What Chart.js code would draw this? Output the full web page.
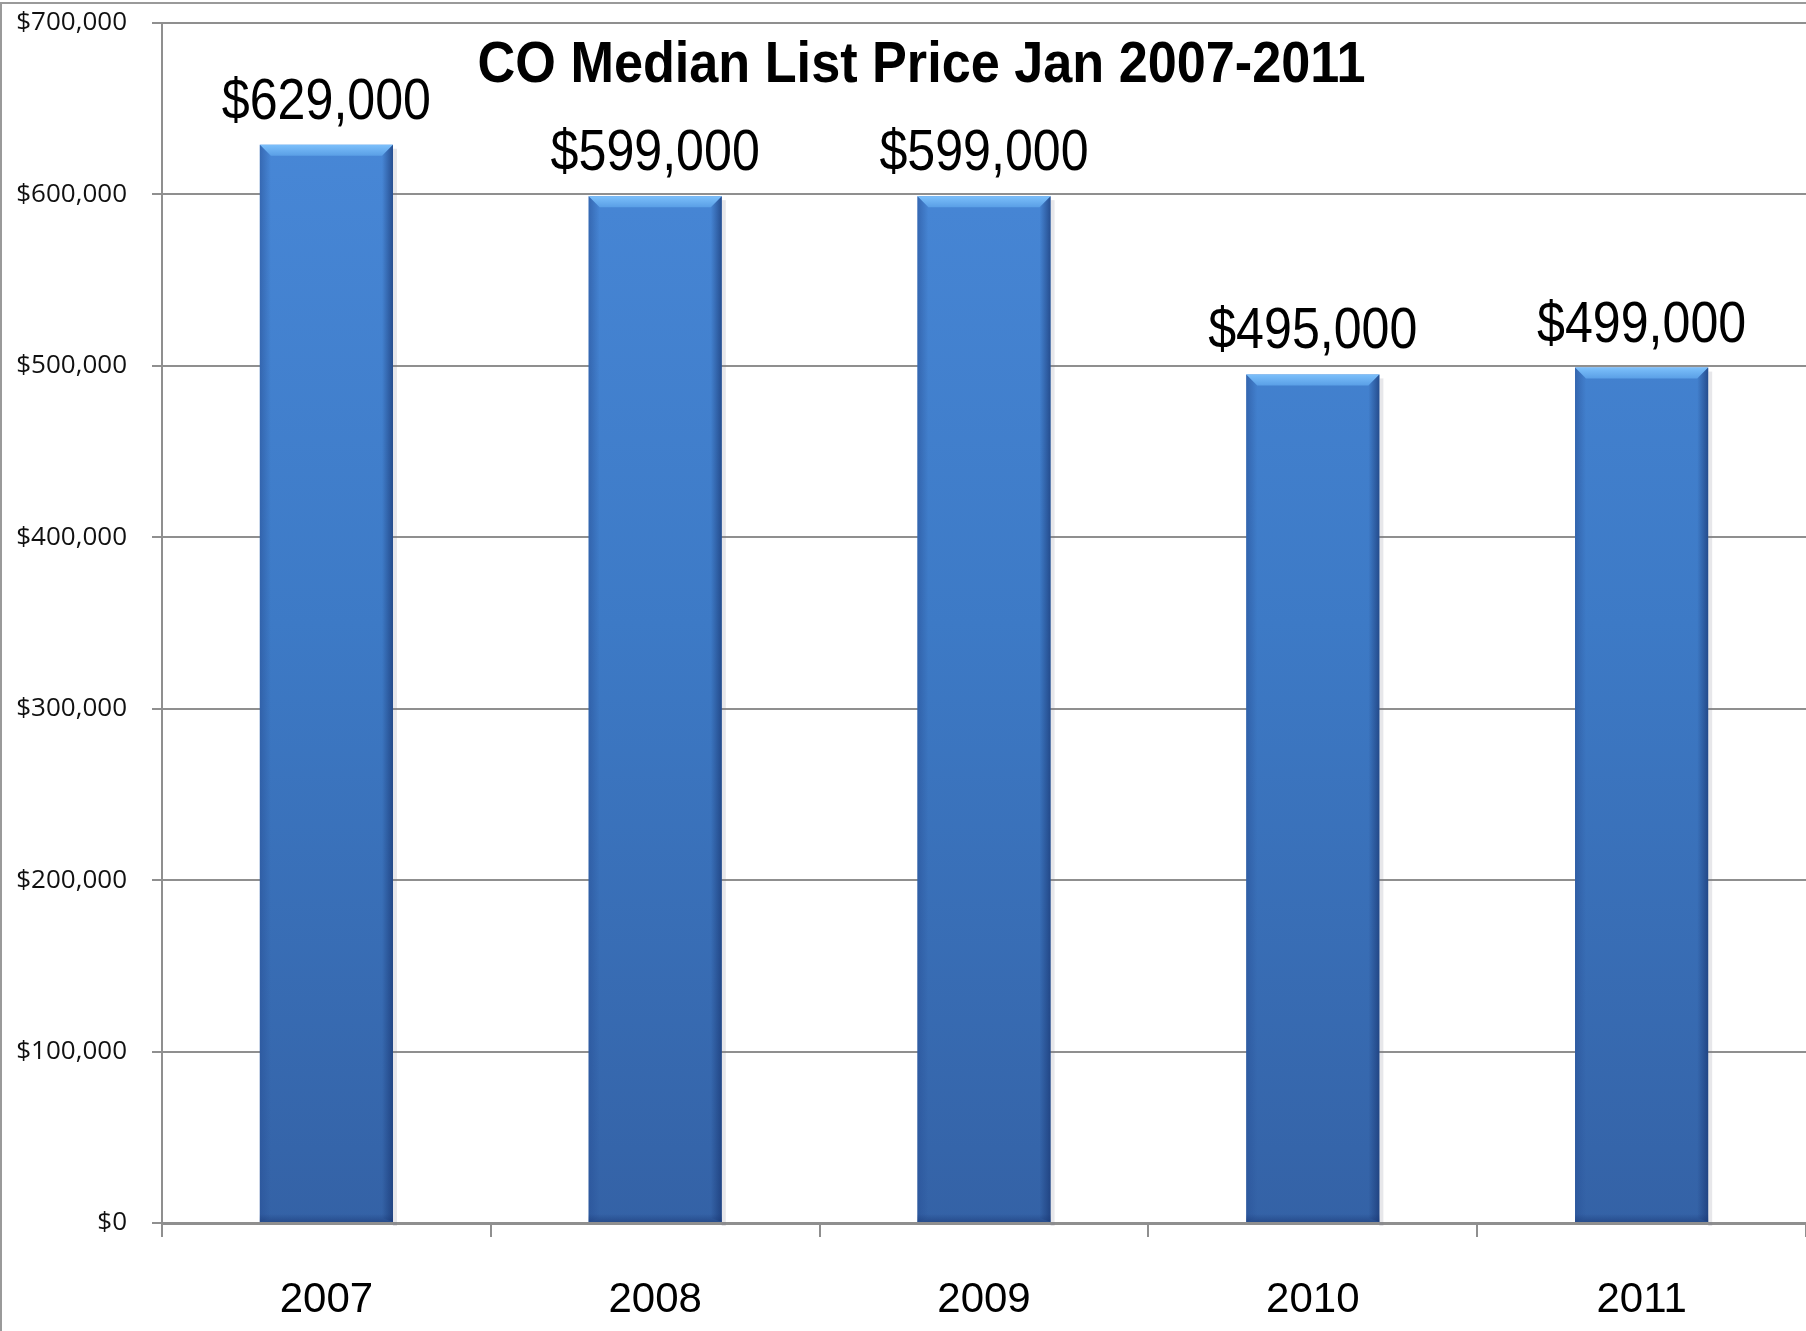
<!DOCTYPE html>
<html>
<head>
<meta charset="utf-8">
<title>CO Median List Price Jan 2007-2011</title>
<script src="https://cdn.jsdelivr.net/npm/chart.js@4"></script>
<style>
  html, body { margin: 0; padding: 0; background: #fff; }
  #wrap { width: 1806px; height: 1331px; position: relative; }
</style>
</head>
<body>
<div id="wrap"><canvas id="priceChart" width="1806" height="1331"></canvas></div>
<script>
// chart data
const chartTitle = "CO Median List Price Jan 2007-2011";
const years = ["2007", "2008", "2009", "2010", "2011"];
const medianPrices = [629000, 599000, 599000, 495000, 499000];
const yMax = 700000;
const yStep = 100000;

const gridGray = "#8f8f8f";

function money(v) {
  return "$" + Number(v).toLocaleString("en-US");
}

// gray frame around the whole picture (top + left edges show)
const framePlugin = {
  id: "frame",
  beforeDraw(chart) {
    const ctx = chart.ctx;
    ctx.save();
    ctx.fillStyle = "#fff";
    ctx.fillRect(0, 0, chart.width, chart.height);
    ctx.strokeStyle = "#9a9a9a";
    ctx.lineWidth = 2;
    ctx.strokeRect(1, 3, chart.width + 10, chart.height + 10);
    ctx.restore();
  }
};

// bevel look on each bar: light top lip, darker sides, soft shadow
const bevelPlugin = {
  id: "bevel",
  afterDatasetsDraw(chart) {
    const ctx = chart.ctx;
    const meta = chart.getDatasetMeta(0);
    ctx.save();
    meta.data.forEach(bar => {
      const left = bar.x - bar.width / 2;
      const right = bar.x + bar.width / 2;
      const top = bar.y;
      const bottom = bar.base;
      const lip = 11;

      // top lip
      const g = ctx.createLinearGradient(0, top, 0, top + lip);
      g.addColorStop(0, "#7cc0fb");
      g.addColorStop(1, "#5a9fe6");
      ctx.fillStyle = g;
      ctx.beginPath();
      ctx.moveTo(left, top);
      ctx.lineTo(right, top);
      ctx.lineTo(right - lip, top + lip);
      ctx.lineTo(left + lip, top + lip);
      ctx.closePath();
      ctx.fill();

      // left side
      let sg = ctx.createLinearGradient(left, 0, left + lip, 0);
      sg.addColorStop(0, "rgba(40,80,150,0.55)");
      sg.addColorStop(1, "rgba(40,80,150,0)");
      ctx.fillStyle = sg;
      ctx.beginPath();
      ctx.moveTo(left, top);
      ctx.lineTo(left + lip, top + lip);
      ctx.lineTo(left + lip, bottom - 4);
      ctx.lineTo(left, bottom);
      ctx.closePath();
      ctx.fill();

      // right side
      sg = ctx.createLinearGradient(right, 0, right - lip, 0);
      sg.addColorStop(0, "rgba(25,55,115,0.7)");
      sg.addColorStop(1, "rgba(25,55,115,0)");
      ctx.fillStyle = sg;
      ctx.beginPath();
      ctx.moveTo(right, top);
      ctx.lineTo(right - lip, top + lip);
      ctx.lineTo(right - lip, bottom - 4);
      ctx.lineTo(right, bottom);
      ctx.closePath();
      ctx.fill();

      // bottom edge
      const bg = ctx.createLinearGradient(0, bottom - 8, 0, bottom);
      bg.addColorStop(0, "rgba(25,55,115,0)");
      bg.addColorStop(1, "rgba(25,55,115,0.5)");
      ctx.fillStyle = bg;
      ctx.fillRect(left, bottom - 8, right - left, 8);

      // shadow on the right
      ctx.fillStyle = "rgba(120,120,140,0.18)";
      ctx.fillRect(right, top + 4, 4, bottom - top);
    });
    ctx.restore();
  }
};

// value labels above the bars and the title inside the plot
const labelPlugin = {
  id: "valueLabels",
  afterDraw(chart) {
    const ctx = chart.ctx;
    const meta = chart.getDatasetMeta(0);
    const values = chart.data.datasets[0].data;
    ctx.save();
    ctx.fillStyle = "#000";
    ctx.textAlign = "center";
    ctx.textBaseline = "alphabetic";
    ctx.font = "57px 'Liberation Sans', Arial, sans-serif";
    meta.data.forEach((bar, i) => {
      ctx.save();
      ctx.translate(bar.x, bar.y - 26);
      ctx.scale(0.88, 1);
      ctx.fillText(money(values[i]), 0, 0);
      ctx.restore();
    });

    // title
    const area = chart.chartArea;
    ctx.font = "bold 58px 'Liberation Sans', Arial, sans-serif";
    ctx.translate(area.left + area.width * 0.462, area.top + 59);
    ctx.scale(0.9, 1);
    ctx.fillText(chartTitle, 0, 0);
    ctx.restore();
  }
};

const canvas = document.getElementById("priceChart");
const ctx = canvas.getContext("2d");

new Chart(ctx, {
  type: "bar",
  data: {
    labels: years,
    datasets: [{
      label: "Median List Price",
      data: medianPrices,
      backgroundColor: context => {
        const area = context.chart.chartArea;
        if (!area) return "#3f7bc8";
        const g = context.chart.ctx.createLinearGradient(0, area.top, 0, area.bottom);
        g.addColorStop(0, "#4a8ada");
        g.addColorStop(0.5, "#3d7ac6");
        g.addColorStop(1, "#3462a6");
        return g;
      },
      borderWidth: 0,
      barPercentage: 0.405,
      categoryPercentage: 1
    }]
  },
  options: {
    responsive: false,
    animation: false,
    layout: { padding: { top: 23, right: 0, left: 0, bottom: 0 } },
    plugins: {
      legend: { display: false },
      title: { display: false },
      tooltip: { enabled: false }
    },
    scales: {
      x: {
        offset: true,
        grid: {
          offset: true,
          drawOnChartArea: false,
          drawTicks: true,
          tickLength: 14,
          color: gridGray,
          lineWidth: 2
        },
        border: { color: gridGray, width: 3 },
        ticks: {
          color: "#000",
          padding: 38,
          font: { family: "'Liberation Sans', Arial, sans-serif", size: 42 }
        },
        afterFit: scale => { scale.height = 108; }
      },
      y: {
        min: 0,
        max: yMax,
        grid: {
          color: gridGray,
          lineWidth: 2,
          tickLength: 10
        },
        border: { color: gridGray, width: 2 },
        ticks: {
          stepSize: yStep,
          color: "#111",
          padding: 25,
          font: { family: "'Open Sans', sans-serif", size: 26 },
          callback: v => money(v)
        },
        // fixed axis width; top label may sit in the layout padding
        afterFit: scale => {
          scale.width = 162;
          scale.paddingTop = 0;
          scale.paddingBottom = 0;
        }
      }
    }
  },
  plugins: [framePlugin, bevelPlugin, labelPlugin]
});
</script>
</body>
</html>
